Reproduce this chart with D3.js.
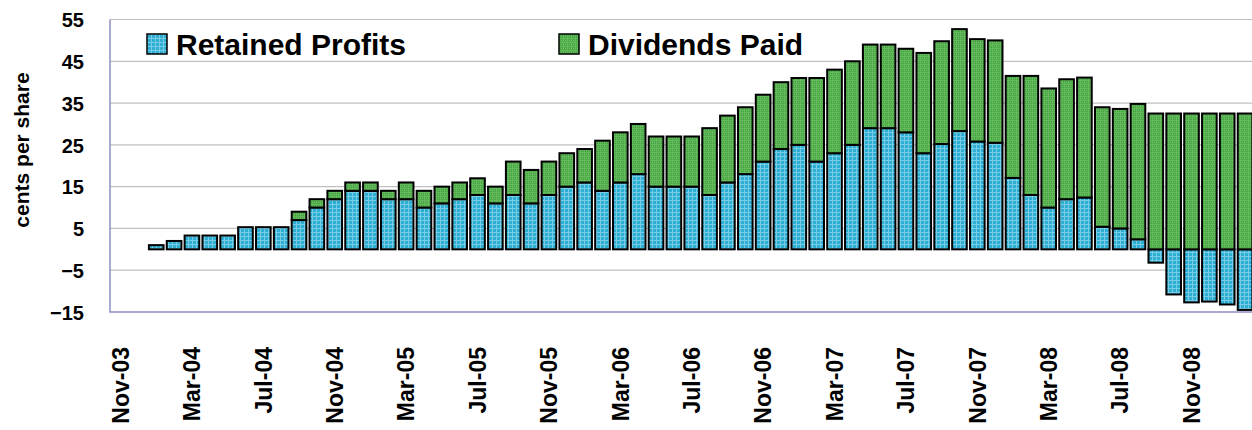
<!DOCTYPE html>
<html>
<head>
<meta charset="utf-8">
<script src="https://cdn.jsdelivr.net/npm/d3@7"></script>
<style>
  body { margin: 0; background: #fff; }
  text { font-family: Arial, "Liberation Sans", sans-serif; font-weight: bold; fill: #000; }
</style>
</head>
<body>
<div class="chart-container"></div>
<script>
var months = ["Nov-03","Dec-03","Jan-04","Feb-04","Mar-04","Apr-04","May-04","Jun-04","Jul-04","Aug-04","Sep-04","Oct-04",
  "Nov-04","Dec-04","Jan-05","Feb-05","Mar-05","Apr-05","May-05","Jun-05","Jul-05","Aug-05","Sep-05","Oct-05",
  "Nov-05","Dec-05","Jan-06","Feb-06","Mar-06","Apr-06","May-06","Jun-06","Jul-06","Aug-06","Sep-06","Oct-06",
  "Nov-06","Dec-06","Jan-07","Feb-07","Mar-07","Apr-07","May-07","Jun-07","Jul-07","Aug-07","Sep-07","Oct-07",
  "Nov-07","Dec-07","Jan-08","Feb-08","Mar-08","Apr-08","May-08","Jun-08","Jul-08","Aug-08","Sep-08","Oct-08",
  "Nov-08","Dec-08","Jan-09","Feb-09"];

// cents per share, null where no bar
var retained = [null,null,1,2,3.3,3.3,3.3,5.3,5.3,5.3,7,10,
  12,14,14,12,12,10,11,12,13,11,13,11,
  13,15,16,14,16,18,15,15,15,13,16,18,
  21,24,25,21,23,25,29,29,28,23,25.2,28.3,
  25.8,25.5,17.1,13,10,12,12.4,5.4,5,2.4,-3.2,-10.8,
  -12.7,-12.5,-13.2,-14.5];

var dividends = [null,null,0,0,0,0,0,0,0,0,2,2,
  2,2,2,2,4,4,4,4,4,4,8,8,
  8,8,8,12,12,12,12,12,12,16,16,16,
  16,16,16,20,20,20,20,20,20,24,24.6,24.4,
  24.5,24.5,24.4,28.5,28.5,28.7,28.7,28.6,28.6,32.4,32.5,32.5,
  32.5,32.5,32.5,32.5];

var yTicks = [-15,-5,5,15,25,35,45,55];
var seriesNames = ["Retained Profits", "Dividends Paid"];

var width = 1252, height = 430;
var margin = {top: 19.5, left: 110, bottom: 312};
var plotRight = margin.left + 17.9 * months.length;

var x = d3.scaleBand().domain(months).range([margin.left, plotRight]).padding(0.18);
var y = d3.scaleLinear().domain([-15, 55]).range([margin.bottom, margin.top]);

var svg = d3.select(".chart-container").append("svg")
    .attr("width", width)
    .attr("height", height);

// hatched fills like the excel pattern
var defs = svg.append("defs");
var pb = defs.append("pattern").attr("id", "blueFill")
    .attr("width", 4).attr("height", 4).attr("patternUnits", "userSpaceOnUse");
pb.append("rect").attr("width", 4).attr("height", 4).attr("fill", "#2eaed3");
pb.append("rect").attr("width", 4).attr("height", 1).attr("fill", "#78cde6");
pb.append("rect").attr("width", 1).attr("height", 4).attr("fill", "#78cde6");

var pg = defs.append("pattern").attr("id", "greenFill")
    .attr("width", 4).attr("height", 4).attr("patternUnits", "userSpaceOnUse");
pg.append("rect").attr("width", 4).attr("height", 4).attr("fill", "#48a945");
pg.append("rect").attr("width", 4).attr("height", 1).attr("fill", "#66b95c");
pg.append("rect").attr("width", 1).attr("height", 4).attr("fill", "#66b95c");
pg.append("rect").attr("x", 2).attr("y", 2).attr("width", 1).attr("height", 1).attr("fill", "#82c878");

// gridlines
svg.append("g").attr("class", "grid")
  .selectAll("line")
  .data(yTicks.filter(function(d) { return d !== -15; }))
  .enter().append("line")
    .attr("x1", margin.left).attr("x2", width)
    .attr("y1", function(d) { return y(d); })
    .attr("y2", function(d) { return y(d); })
    .attr("stroke", "#c0c0c0").attr("stroke-width", 1.2);

// plot area left + bottom border
svg.append("path")
    .attr("d", "M" + margin.left + "," + margin.top + "V" + y(-15) + "H" + width)
    .attr("fill", "none").attr("stroke", "#8e8ec2").attr("stroke-width", 1.5);

var data = months.map(function(m, i) {
  return {month: m, r: retained[i], d: dividends[i]};
}).filter(function(d) { return d.r !== null; });

var bars = svg.append("g").attr("class", "bars");

bars.selectAll("rect.ret")
  .data(data)
  .enter().append("rect")
    .attr("class", "ret")
    .attr("x", function(d) { return x(d.month); })
    .attr("width", x.bandwidth())
    .attr("y", function(d) { return y(Math.max(0, d.r)); })
    .attr("height", function(d) { return Math.abs(y(d.r) - y(0)); })
    .attr("fill", "url(#blueFill)")
    .attr("stroke", "#000").attr("stroke-width", 2);

bars.selectAll("rect.div")
  .data(data.filter(function(d) { return d.d > 0; }))
  .enter().append("rect")
    .attr("class", "div")
    .attr("x", function(d) { return x(d.month); })
    .attr("width", x.bandwidth())
    .attr("y", function(d) { return y(Math.max(0, d.r) + d.d); })
    .attr("height", function(d) { return y(0) - y(d.d); })
    .attr("fill", "url(#greenFill)")
    .attr("stroke", "#000").attr("stroke-width", 2);

// y axis
var yAxis = d3.axisLeft(y).tickValues(yTicks).tickSize(0).tickPadding(26);
var gy = svg.append("g")
    .attr("transform", "translate(" + margin.left + ",0)")
    .call(yAxis);
gy.select(".domain").remove();
gy.selectAll("text")
    .style("font-size", "20px")
    .style("font-family", "Arial, 'Liberation Sans', sans-serif")
    .attr("dy", "0.36em");

// x axis, a label every 4 months
var xAxis = d3.axisBottom(x)
    .tickValues(months.filter(function(m, i) { return i % 4 === 0; }))
    .tickSize(0);
var gx = svg.append("g")
    .attr("transform", "translate(0," + y(-15) + ")")
    .call(xAxis);
gx.select(".domain").remove();
gx.selectAll("text")
    .style("font-size", "23px")
    .style("font-family", "Arial, 'Liberation Sans', sans-serif")
    .attr("transform", "rotate(-90)")
    .attr("text-anchor", "end")
    .attr("x", -35)
    .attr("y", 0)
    .attr("dy", "0.36em");

// y title
svg.append("text")
    .attr("transform", "translate(28.5,150) rotate(-90)")
    .attr("text-anchor", "middle")
    .style("font-size", "21px")
    .text("cents per share");

// legend
var legend = svg.append("g").attr("class", "legend")
  .selectAll("g")
  .data(seriesNames)
  .enter().append("g")
    .attr("transform", function(d, i) { return "translate(" + [147, 559][i] + ",34)"; });

legend.append("rect")
    .attr("width", 20).attr("height", 20)
    .attr("fill", function(d, i) { return i === 0 ? "url(#blueFill)" : "url(#greenFill)"; })
    .attr("stroke", "#000").attr("stroke-width", 1.5);

legend.append("text")
    .attr("x", 29)
    .attr("y", 21)
    .style("font-size", "30px")
    .text(function(d) { return d; });
</script>
</body>
</html>
